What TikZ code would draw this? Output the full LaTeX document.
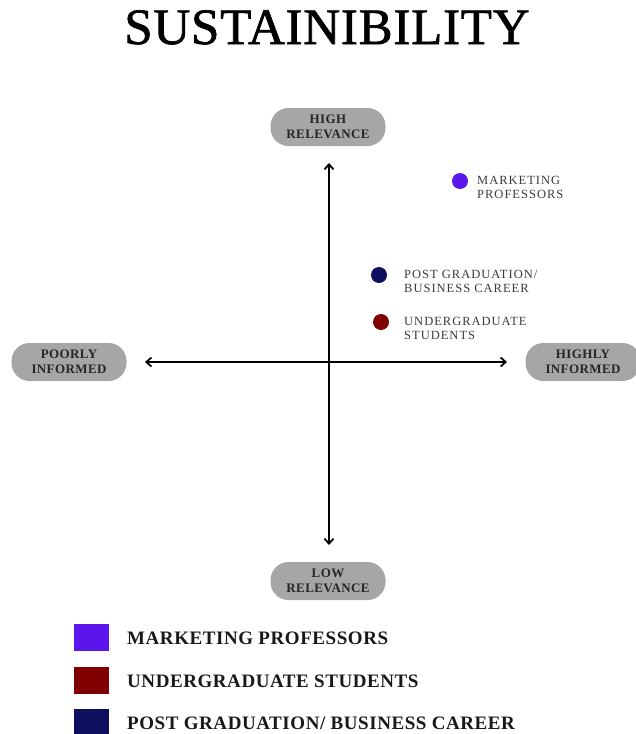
\documentclass[tikz,border=0pt]{standalone}
\usepackage{fontspec}
\setmainfont{Liberation Serif}
\newfontfamily\titlefont[LetterSpace=1.5,FakeBold=1.3]{Liberation Serif}
\newfontfamily\pillfont[LetterSpace=3]{Liberation Serif}
\newfontfamily\spacedfont[LetterSpace=8]{Liberation Serif}
\newfontfamily\legendfont[LetterSpace=3]{Liberation Serif}
\usetikzlibrary{arrows.meta}
\definecolor{pillgray}{HTML}{A6A6A6}
\definecolor{profcol}{HTML}{5B16EE}
\definecolor{ugcol}{HTML}{800000}
\definecolor{pgcol}{HTML}{0F0F5F}
\definecolor{labelgray}{HTML}{3A3A3A}
\tikzset{
  pill/.style={fill=pillgray, rounded corners=18pt, minimum width=115pt, minimum height=38pt,
    inner sep=0pt, align=center, font=\pillfont\bfseries\fontsize{13}{15}\selectfont, text=black!85},
  axis/.style={line width=1.8pt, {Straight Barb[length=5pt,width=9pt]}-{Straight Barb[length=5pt,width=9pt]}},
  dot/.style={circle, minimum size=16pt, inner sep=0pt},
  dotlabel/.style={anchor=west, align=left, inner sep=0pt, text=labelgray,
    font=\spacedfont\fontsize{12.5}{14}\selectfont},
  swatch/.style={minimum width=35pt, minimum height=27pt, inner sep=0pt},
  legendtext/.style={anchor=west, inner sep=0pt, text=black!90,
    font=\legendfont\bfseries\fontsize{19}{22}\selectfont}
}
\begin{document}
\begin{tikzpicture}[x=1pt,y=-1pt]
\useasboundingbox (0,0) rectangle (635,734);

% title
\node[font=\titlefont\fontsize{51}{56}\selectfont, anchor=base] (title) at (327,44) {SUSTAINIBILITY};

% axis end labels
\node[pill] (high) at (328,127) {HIGH\\RELEVANCE};
\node[pill] (low) at (328,581) {LOW\\RELEVANCE};
\node[pill] (poor) at (69,362) {POORLY\\INFORMED};
\node[pill] (well) at (583,362) {HIGHLY\\INFORMED};

% axes
\coordinate (top) at (329,163);
\coordinate (bottom) at (329,545);
\coordinate (left) at (145,362);
\coordinate (right) at (507,362);
\draw[axis] (bottom) -- (top);
\draw[axis] (left) -- (right);

% plotted groups
\node[dot, fill=profcol] (prof) at (460,181) {};
\node[dotlabel] (proflab) at (477,187) {MARKETING\\PROFESSORS};
\node[dot, fill=pgcol] (pg) at (379,275) {};
\node[dotlabel] (pglab) at (404,281) {POST GRADUATION/\\BUSINESS CAREER};
\node[dot, fill=ugcol] (ug) at (381,322) {};
\node[dotlabel] (uglab) at (404,328) {UNDERGRADUATE\\STUDENTS};

% legend
\node[swatch, fill=profcol] (sw1) at (91.5,637.5) {};
\node[legendtext] (lg1) at (127,638) {MARKETING PROFESSORS};
\node[swatch, fill=ugcol] (sw2) at (91.5,680) {};
\node[legendtext] (lg2) at (127,681) {UNDERGRADUATE STUDENTS};
\node[swatch, fill=pgcol] (sw3) at (91.5,722) {};
\node[legendtext] (lg3) at (127,723) {POST GRADUATION/ BUSINESS CAREER};
\end{tikzpicture}
\end{document}
